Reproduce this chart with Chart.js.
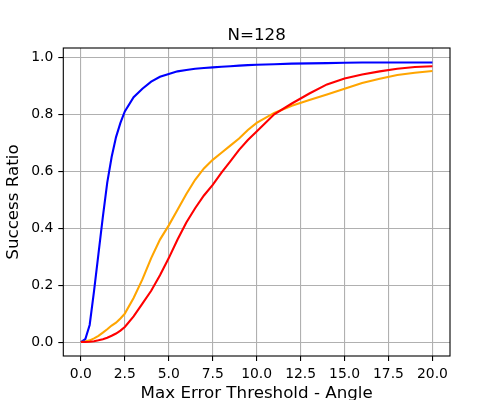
<!DOCTYPE html>
<html>
<head>
<meta charset="utf-8">
<script src="https://cdn.jsdelivr.net/npm/chart.js@4.4.1/dist/chart.umd.min.js"></script>
<style>
  html, body { margin: 0; padding: 0; background: #fff; }
  canvas { display: block; }
</style>
</head>
<body>
<canvas id="chart" width="500" height="400"></canvas>
<script>
// thresholds (degrees) at which the curves were read
const thresholds = [0, 0.25, 0.5, 0.75, 1, 1.25, 1.5, 1.75, 2, 2.25, 2.5, 3, 3.5, 4, 4.5, 5, 5.5, 6, 6.5, 7, 7.5,
                    8, 8.5, 9, 9.5, 10, 11, 12, 13, 14, 15, 16, 17, 18, 19, 20];

const blueSeries = [0, 0.01, 0.06, 0.18, 0.31, 0.44, 0.56, 0.65, 0.72, 0.77, 0.81, 0.86, 0.89, 0.915, 0.932, 0.942,
                    0.951, 0.956, 0.960, 0.963, 0.965, 0.967, 0.969, 0.971, 0.973, 0.974, 0.976, 0.978, 0.979,
                    0.980, 0.981, 0.982, 0.982, 0.982, 0.982, 0.982];

const orangeSeries = [0, 0.002, 0.006, 0.013, 0.022, 0.033, 0.045, 0.058, 0.068, 0.083, 0.10, 0.155, 0.22, 0.295,
                      0.36, 0.41, 0.465, 0.52, 0.57, 0.61, 0.64, 0.665, 0.69, 0.715, 0.745, 0.77, 0.805, 0.83,
                      0.85, 0.87, 0.89, 0.91, 0.925, 0.938, 0.946, 0.952];

const redSeries = [0, 0, 0.001, 0.003, 0.006, 0.01, 0.015, 0.022, 0.03, 0.04, 0.053, 0.09, 0.135, 0.18, 0.235,
                   0.295, 0.36, 0.42, 0.47, 0.515, 0.552, 0.595, 0.635, 0.675, 0.71, 0.74, 0.80, 0.838, 0.873,
                   0.905, 0.926, 0.94, 0.951, 0.96, 0.966, 0.969];

const xTicks = [0, 2.5, 5, 7.5, 10, 12.5, 15, 17.5, 20];
const yTicks = [0, 0.2, 0.4, 0.6, 0.8, 1.0];

const titleText = 'N=128';
const xLabel = 'Max Error Threshold - Angle';
const yLabel = 'Success Ratio';

const FONT = 'DejaVu Sans';

function toPoints(values) {
    return thresholds.map((t, i) => ({ x: t, y: values[i] }));
}

function line(values, color, order) {
    return {
        data: toPoints(values),
        borderColor: color,
        borderWidth: 2.1,
        pointRadius: 0,
        tension: 0,
        fill: false,
        order: order
    };
}

// title and the black frame round the axes, like matplotlib
const framePlugin = {
    id: 'frame',
    afterDatasetsDraw(chart) {
        const a = chart.chartArea;
        const ctx = chart.ctx;
        ctx.save();
        ctx.strokeStyle = '#000';
        ctx.lineWidth = 1.1;
        ctx.strokeRect(a.left, a.top, a.right - a.left, a.bottom - a.top);
        ctx.restore();
    },
    afterDraw(chart) {
        const a = chart.chartArea;
        const ctx = chart.ctx;
        ctx.save();
        ctx.fillStyle = '#000';
        ctx.font = '16.7px "' + FONT + '"';
        ctx.textAlign = 'center';
        ctx.textBaseline = 'alphabetic';
        ctx.fillText(titleText, (a.left + a.right) / 2, 40);
        ctx.restore();
    }
};

const gridStyle = {
    color: '#b0b0b0',
    lineWidth: 1.1,
    tickColor: '#000',
    tickWidth: 1.1,
    tickLength: 5,
    drawTicks: true
};

new Chart(document.getElementById('chart').getContext('2d'), {
    type: 'line',
    data: {
        datasets: [
            line(blueSeries, 'blue', 3),
            line(orangeSeries, 'orange', 2),
            line(redSeries, 'red', 1)
        ]
    },
    options: {
        responsive: false,
        animation: false,
        layout: { padding: { left: 0, right: 50, top: 48, bottom: 0 } },
        plugins: {
            legend: { display: false },
            title: { display: false },
            tooltip: { enabled: false }
        },
        scales: {
            x: {
                type: 'linear',
                min: -1,
                max: 21,
                grid: gridStyle,
                border: { display: false },
                afterBuildTicks: scale => { scale.ticks = xTicks.map(v => ({ value: v })); },
                afterFit: scale => { scale.height = 44; },
                ticks: {
                    color: '#000',
                    padding: 5,
                    maxRotation: 0,
                    font: { family: FONT, size: 13.9 },
                    callback: v => v.toFixed(1)
                },
                title: {
                    display: true,
                    text: xLabel,
                    color: '#000',
                    font: { family: FONT, size: 16.7 },
                    padding: { top: 0, bottom: -4 }
                }
            },
            y: {
                type: 'linear',
                min: -0.049,
                max: 1.033,
                grid: gridStyle,
                border: { display: false },
                afterBuildTicks: scale => { scale.ticks = yTicks.map(v => ({ value: v })); },
                afterFit: scale => { scale.width = 63.3; },
                ticks: {
                    color: '#000',
                    padding: 5,
                    font: { family: FONT, size: 13.9 },
                    callback: v => v.toFixed(1)
                },
                title: {
                    display: true,
                    text: yLabel,
                    color: '#000',
                    font: { family: FONT, size: 16.7 },
                    padding: { top: 4, bottom: 0 }
                }
            }
        }
    },
    plugins: [framePlugin]
});
</script>
</body>
</html>
